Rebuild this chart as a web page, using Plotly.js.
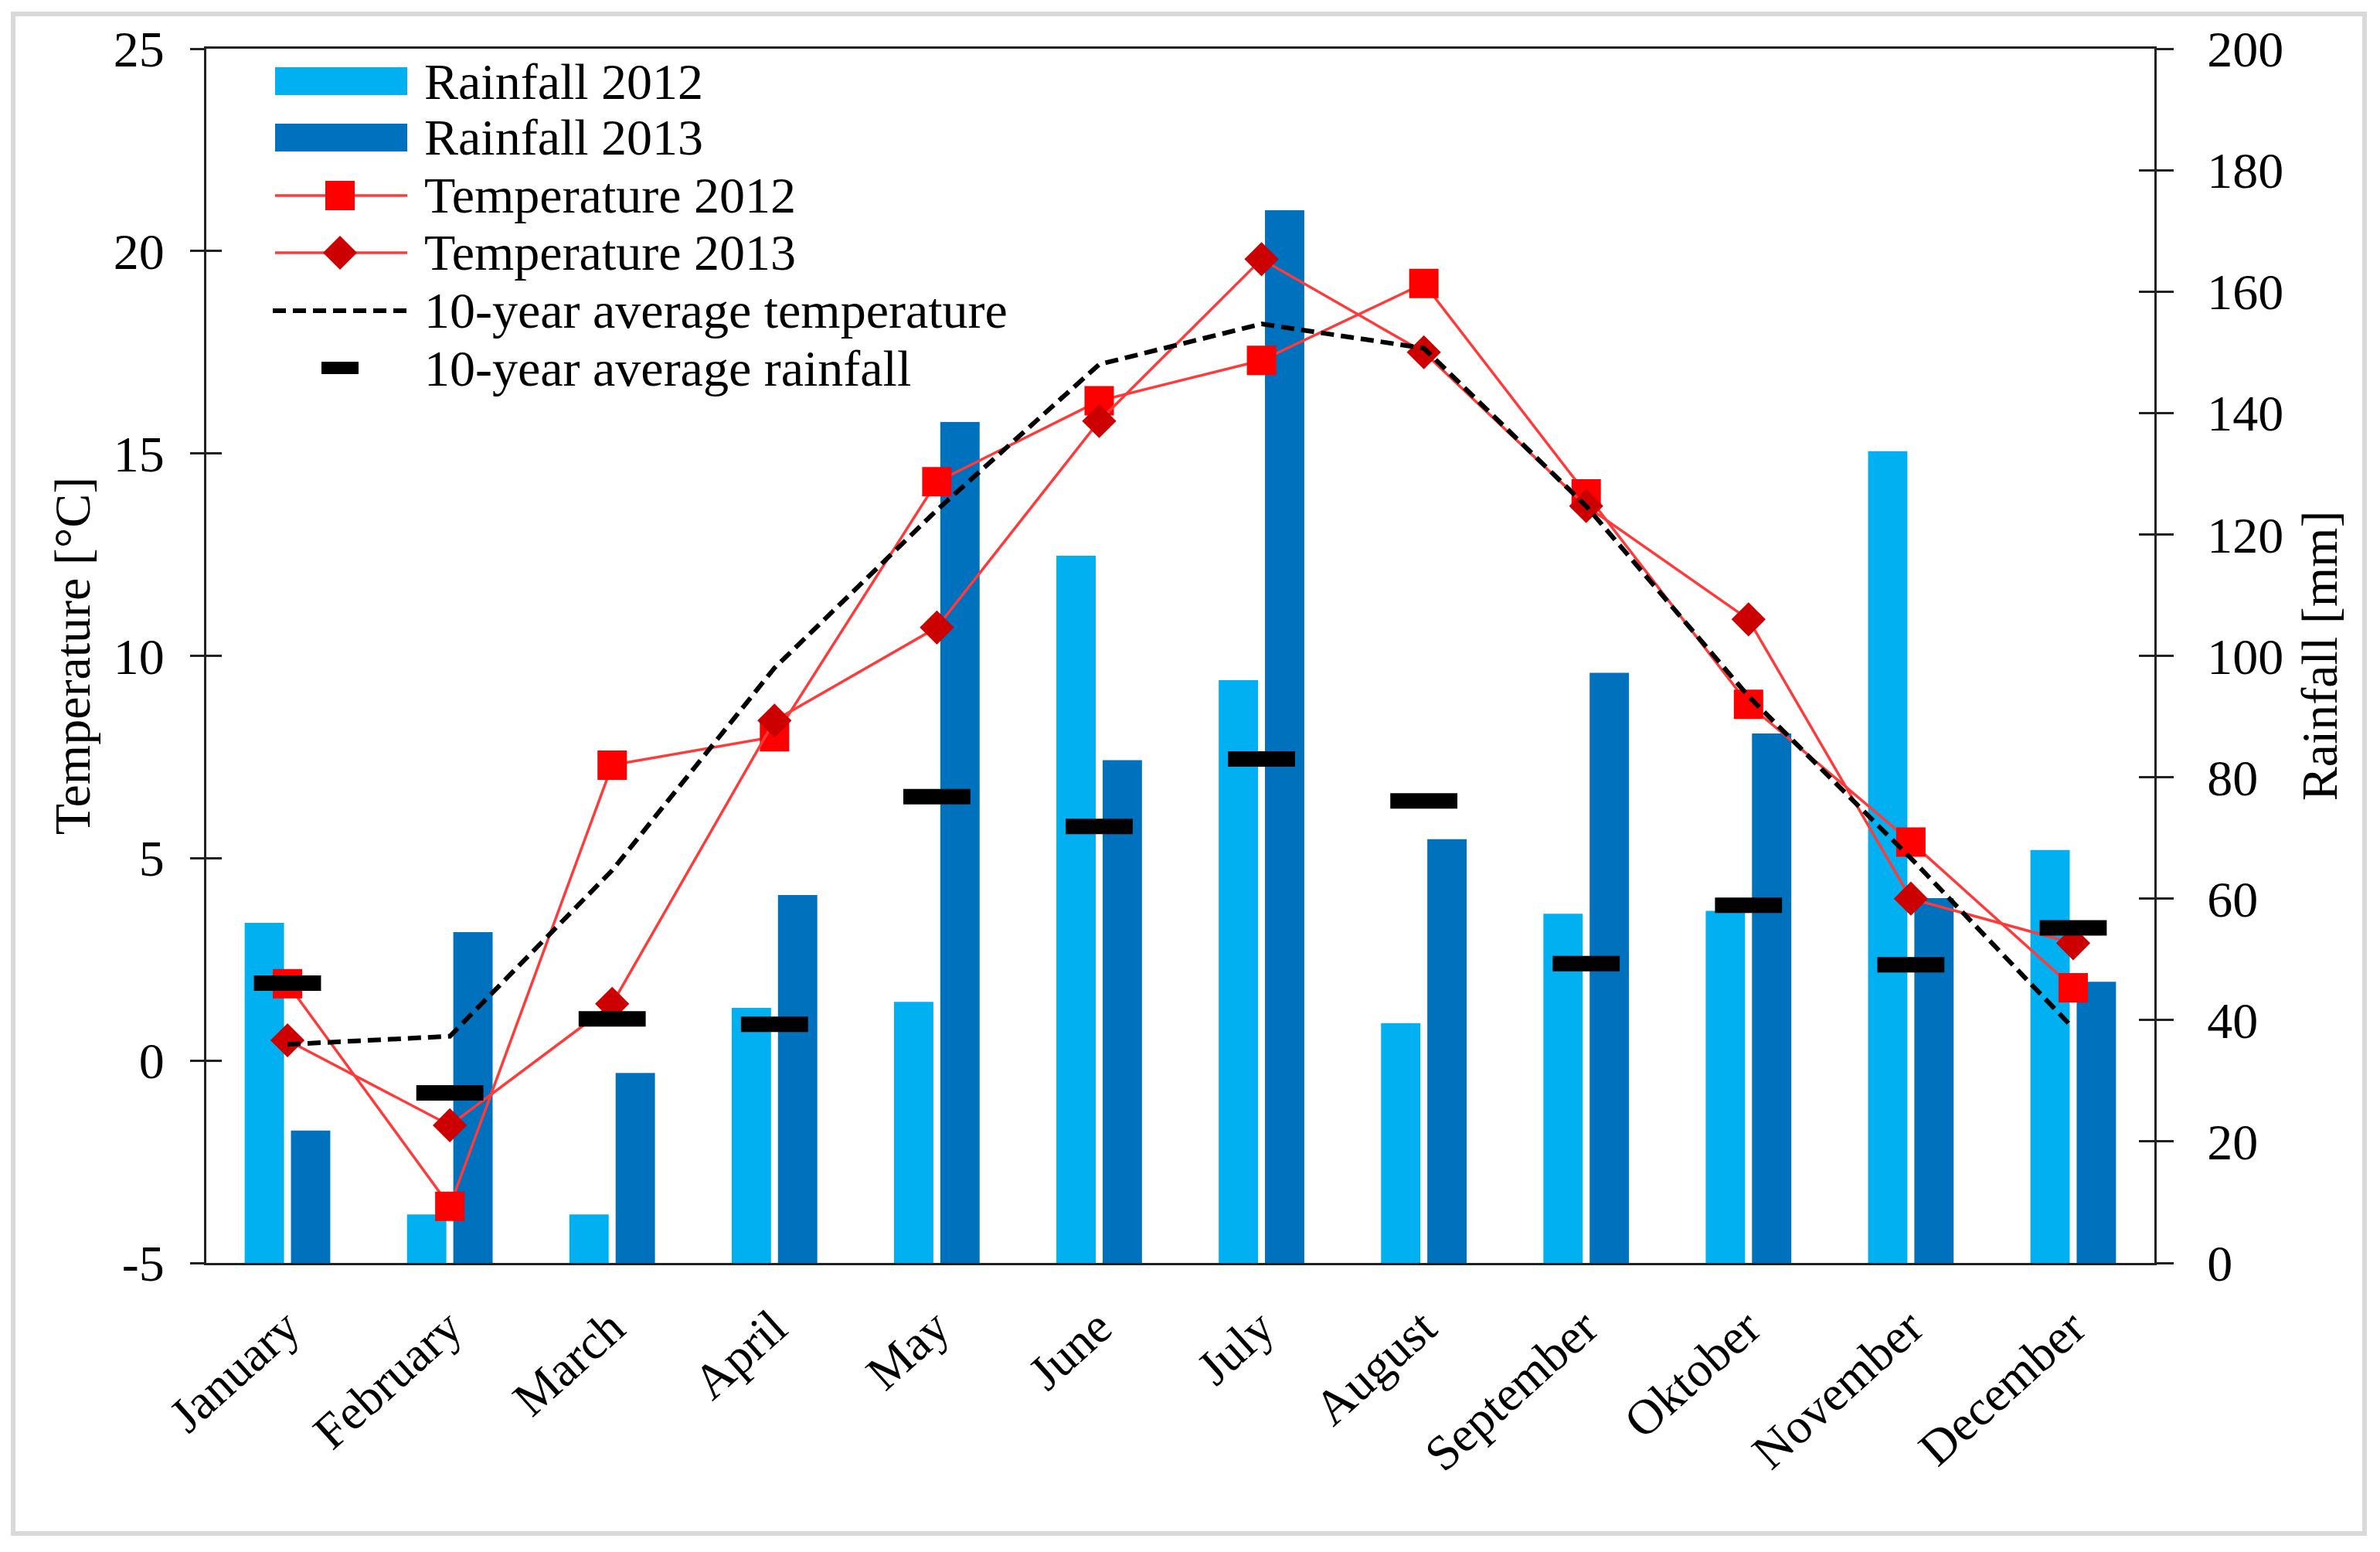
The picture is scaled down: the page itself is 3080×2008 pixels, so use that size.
<!DOCTYPE html>
<html>
<head>
<meta charset="utf-8">
<script src="https://cdn.plot.ly/plotly-3.0.1.min.js"></script>
<style>
  body { margin: 0; background: #fff; }
  #chart { width: 3080px; height: 2008px; }
  #frame { position: absolute; left: 14px; top: 15px; width: 3049px; height: 1972px;
           border: 6px solid #d9d9d9; box-sizing: border-box; pointer-events: none; }
</style>
</head>
<body>
<div id="chart"></div>
<div id="frame"></div>
<script>
// values
const months = ['January', 'February', 'March', 'April', 'May', 'June', 'July',
                'August', 'September', 'Oktober', 'November', 'December'];
const rain2012 = [56, 8, 8, 42, 43, 116.5, 96, 39.5, 57.5, 58, 133.7, 68];
const rain2013 = [21.8, 54.5, 31.3, 60.6, 138.5, 82.8, 173.4, 69.8, 97.2, 87.2, 60.1, 46.3];
const rain10yr = [46.1, 28.0, 40.2, 39.3, 76.8, 71.9, 83.0, 76.1, 49.3, 58.9, 49.1, 55.2];
const temp2012 = [1.9, -3.6, 7.3, 8.0, 14.3, 16.3, 17.3, 19.2, 14.0, 8.8, 5.4, 1.8];
const temp2013 = [0.5, -1.6, 1.4, 8.4, 10.7, 15.8, 19.8, 17.5, 13.7, 10.9, 4.0, 2.9];
const temp10yr = [0.4, 0.6, 4.7, 9.7, 13.6, 17.2, 18.2, 17.6, 13.7, 9.0, 5.0, 0.8];
const tempTicks = [-5, 0, 5, 10, 15, 20, 25];

const legendNames = ['Rainfall 2012', 'Rainfall 2013', 'Temperature 2012',
                     'Temperature 2013', '10-year average temperature', '10-year average rainfall'];

// colours
const lightBlue = '#00b0f0', darkBlue = '#0071bc', red = '#ff0000', darkRed = '#cc0000';
const lineRed = '#ff3a3a';
const font = 'Liberation Serif, Times New Roman, serif';

// plot area in pixels
const W = 3080, H = 2008;
const M = { l: 267, r: 292, t: 63, b: 374 };
const pw = W - M.l - M.r, ph = H - M.t - M.b;
const px = x => (x - M.l) / pw;
const py = y => (H - M.b - y) / ph;

const traces = [
  { x: months, y: rain2012, type: 'bar', name: legendNames[0], yaxis: 'y',
    marker: { color: lightBlue, line: { width: 0 } } },
  { x: months, y: rain2013, type: 'bar', name: legendNames[1], yaxis: 'y',
    marker: { color: darkBlue, line: { width: 0 } } },
  { x: months, y: temp2012, type: 'scatter', mode: 'lines+markers', name: legendNames[2], yaxis: 'y2',
    line: { color: lineRed, width: 3.5 },
    marker: { symbol: 'square', size: 38, color: red } },
  { x: months, y: temp2013, type: 'scatter', mode: 'lines+markers', name: legendNames[3], yaxis: 'y2',
    line: { color: lineRed, width: 3.5 },
    marker: { symbol: 'diamond', size: 34, color: darkRed } },
  { x: months, y: rain10yr, type: 'scatter', mode: 'markers', name: legendNames[5], yaxis: 'y3',
    marker: { symbol: 'line-ew', size: 62, color: '#000', line: { color: '#000', width: 20 } } },
  { x: months, y: temp10yr, type: 'scatter', mode: 'lines', name: legendNames[4], yaxis: 'y4',
    line: { color: '#000', width: 6, dash: '17px,9px' } }
];

// hand-drawn legend (Plotly's legend symbols are too small for this look)
const rows = [105, 178, 253, 327, 402, 476];
const sx0 = 356, sx1 = 527, smid = 440;
const shapes = [
  { type: 'rect', xref: 'paper', yref: 'paper', x0: px(sx0), x1: px(sx1), y0: py(rows[0] - 18), y1: py(rows[0] + 18),
    fillcolor: lightBlue, line: { width: 0 } },
  { type: 'rect', xref: 'paper', yref: 'paper', x0: px(sx0), x1: px(sx1), y0: py(rows[1] - 18), y1: py(rows[1] + 18),
    fillcolor: darkBlue, line: { width: 0 } },
  { type: 'line', xref: 'paper', yref: 'paper', x0: px(sx0), x1: px(sx1), y0: py(rows[2]), y1: py(rows[2]),
    line: { color: lineRed, width: 3.5 } },
  { type: 'rect', xref: 'paper', yref: 'paper', x0: px(smid - 19), x1: px(smid + 19), y0: py(rows[2] - 19), y1: py(rows[2] + 19),
    fillcolor: red, line: { width: 0 } },
  { type: 'line', xref: 'paper', yref: 'paper', x0: px(sx0), x1: px(sx1), y0: py(rows[3]), y1: py(rows[3]),
    line: { color: lineRed, width: 3.5 } },
  { type: 'path', xref: 'paper', yref: 'paper',
    path: 'M' + px(smid) + ',' + py(rows[3] - 22) + ' L' + px(smid + 22) + ',' + py(rows[3]) +
          ' L' + px(smid) + ',' + py(rows[3] + 22) + ' L' + px(smid - 22) + ',' + py(rows[3]) + ' Z',
    fillcolor: darkRed, line: { width: 0 } },
  { type: 'line', xref: 'paper', yref: 'paper', x0: px(sx0 - 3), x1: px(sx1), y0: py(rows[4]), y1: py(rows[4]),
    line: { color: '#000', width: 6, dash: '17px,9px' } },
  { type: 'rect', xref: 'paper', yref: 'paper', x0: px(smid - 24), x1: px(smid + 24), y0: py(rows[5] - 8), y1: py(rows[5] + 8),
    fillcolor: '#000', line: { width: 0 } }
];
const annotations = legendNames.map((t, i) => ({
  text: t, xref: 'paper', yref: 'paper', x: px(547), y: py(rows[i]),
  xanchor: 'left', yanchor: 'middle', showarrow: false,
  font: { family: font, size: 66, color: '#000' }
}));

// month labels as rotated annotations, top-right corner under each category
months.forEach((m, i) => {
  annotations.push({
    text: m, xref: 'x', yref: 'paper', x: i, y: py(1678),
    xanchor: 'right', yanchor: 'top', xshift: 32, textangle: -42, showarrow: false,
    font: { family: font, size: 64, color: '#000' }
  });
});

const axisLine = { showline: true, linecolor: '#222', linewidth: 3, showgrid: false, zeroline: false };

const layout = {
  width: W, height: H,
  margin: M,
  paper_bgcolor: '#fff', plot_bgcolor: '#fff',
  font: { family: font, size: 66, color: '#000' },
  showlegend: false,
  barmode: 'group', bargap: 0.43, bargroupgap: 0.15,
  xaxis: Object.assign({}, axisLine, {
    type: 'category', range: [-0.5, 11.5], mirror: true, ticks: '', showticklabels: false
  }),
  yaxis: Object.assign({}, axisLine, {
    side: 'right', range: [0, 200], dtick: 20, ticks: 'outside', ticklen: 22, tickwidth: 3, tickcolor: '#222',
    tickfont: { family: font, size: 66 }, ticklabelstandoff: 30,
    title: { text: 'Rainfall [mm]', font: { family: font, size: 66 }, standoff: 24 }
  }),
  yaxis2: Object.assign({}, axisLine, {
    overlaying: 'y', side: 'left', range: [-5, 25], tickmode: 'array',
    tickvals: tempTicks, ticktext: tempTicks.map(String),
    ticks: 'outside', ticklen: 18, tickwidth: 3, tickcolor: '#222',
    tickfont: { family: font, size: 66 }, ticklabelstandoff: 20,
    title: { text: 'Temperature [°C]', font: { family: font, size: 66 }, standoff: 9 }
  }),
  yaxis3: {
    overlaying: 'y', side: 'right', range: [0, 200], dtick: 20, ticks: 'inside', ticklen: 20, tickwidth: 3, tickcolor: '#222',
    showticklabels: false, showline: false, showgrid: false, zeroline: false
  },
  yaxis4: {
    overlaying: 'y', side: 'left', range: [-5, 25], dtick: 5, ticks: 'inside', ticklen: 20, tickwidth: 3, tickcolor: '#222',
    showticklabels: false, showline: false, showgrid: false, zeroline: false
  },
  shapes: shapes,
  annotations: annotations
};

Plotly.newPlot('chart', traces, layout, { displayModeBar: false, staticPlot: true });
</script>
</body>
</html>
